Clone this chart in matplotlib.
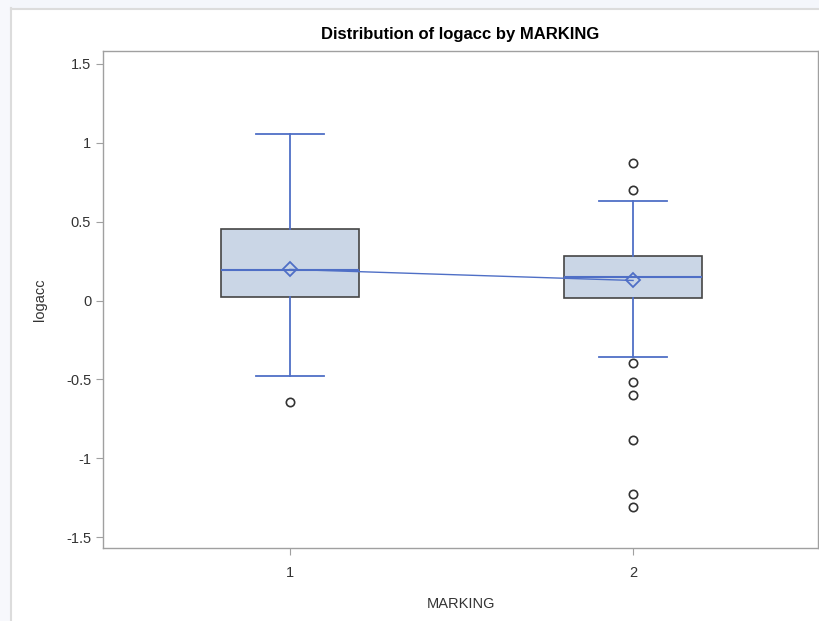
import matplotlib
matplotlib.use("Agg")
import matplotlib.pyplot as plt
from matplotlib.patches import Rectangle

plt.rcParams['font.family'] = ['Liberation Sans', 'DejaVu Sans']

groups = [1, 2]
whislo = [-0.478, -0.356]
q1 = [0.025, 0.015]
med = [0.195, 0.150]
q3 = [0.455, 0.281]
whishi = [1.054, 0.633]
means = [0.197, 0.127]
fliers = [
    [-0.646],
    [0.872, 0.700, -0.396, -0.516, -0.601, -0.885, -1.228, -1.306],
]

blue = "#4f6fc6"
fill = "#cad6e6"
edge = "#454545"

stats = []
for i in range(len(groups)):
    stats.append(dict(whislo=whislo[i], q1=q1[i], med=med[i], q3=q3[i],
                      whishi=whishi[i], mean=means[i], fliers=fliers[i],
                      label=str(groups[i])))

fig = plt.figure(figsize=(8.19, 6.21), dpi=100)
fig.patch.set_facecolor("white")

# light outer frame like the screenshot
fig.patches.append(Rectangle((0, 1 - 8 / 621), 1, 8 / 621, transform=fig.transFigure,
                             facecolor="#f4f6fb", edgecolor="none", zorder=0))
fig.patches.append(Rectangle((0, 0), 10 / 819, 1, transform=fig.transFigure,
                             facecolor="#f7f8fc", edgecolor="none", zorder=0))
fig.add_artist(plt.Line2D([10.5 / 819, 10.5 / 819], [0, 1 - 8 / 621], color="#dcdcdc", lw=1.5,
                          transform=fig.transFigure))
fig.add_artist(plt.Line2D([10.5 / 819, 1], [1 - 8.5 / 621, 1 - 8.5 / 621], color="#dcdcdc", lw=1.5,
                          transform=fig.transFigure))

ax = fig.add_axes([103 / 819, 1 - 548 / 621, (818 - 103) / 819, (548 - 51) / 621])

ax.bxp(stats, positions=groups, widths=0.4, patch_artist=True, showmeans=True,
       boxprops=dict(facecolor=fill, edgecolor=edge, linewidth=1.2),
       whiskerprops=dict(color=blue, linewidth=1.3),
       capprops=dict(color=blue, linewidth=1.3),
       capwidths=0.2,
       medianprops=dict(color=blue, linewidth=1.5),
       meanprops=dict(marker="D", markerfacecolor="none", markeredgecolor=blue,
                      markersize=7, markeredgewidth=1.3),
       flierprops=dict(marker="o", markerfacecolor="none", markeredgecolor="#333333",
                       markersize=6, markeredgewidth=1.2))

ax.plot(groups, means, color=blue, linewidth=1.0, zorder=4)

ax.set_xlim(0.455, 2.539)
ax.set_ylim(-1.568, 1.581)
ax.set_yticks([-1.5, -1, -0.5, 0, 0.5, 1, 1.5])
ax.set_yticklabels(["-1.5", "-1", "-0.5", "0", "0.5", "1", "1.5"])
ax.set_xticks(groups)
ax.set_xticklabels([str(g) for g in groups])

for s in ax.spines.values():
    s.set_color("#a0a0a0")
    s.set_linewidth(1.0)
ax.tick_params(colors="#a0a0a0", labelcolor="#333333", labelsize=10.5, length=5)
ax.tick_params(axis="x", pad=8)

ax.set_title("Distribution of logacc by MARKING", fontsize=12, fontweight="bold", pad=9)
ax.set_xlabel("MARKING", fontsize=10.5, color="#333333", labelpad=12)
ax.set_ylabel("logacc", fontsize=10.5, color="#333333", labelpad=14)

fig.savefig("out.png", dpi=100)
